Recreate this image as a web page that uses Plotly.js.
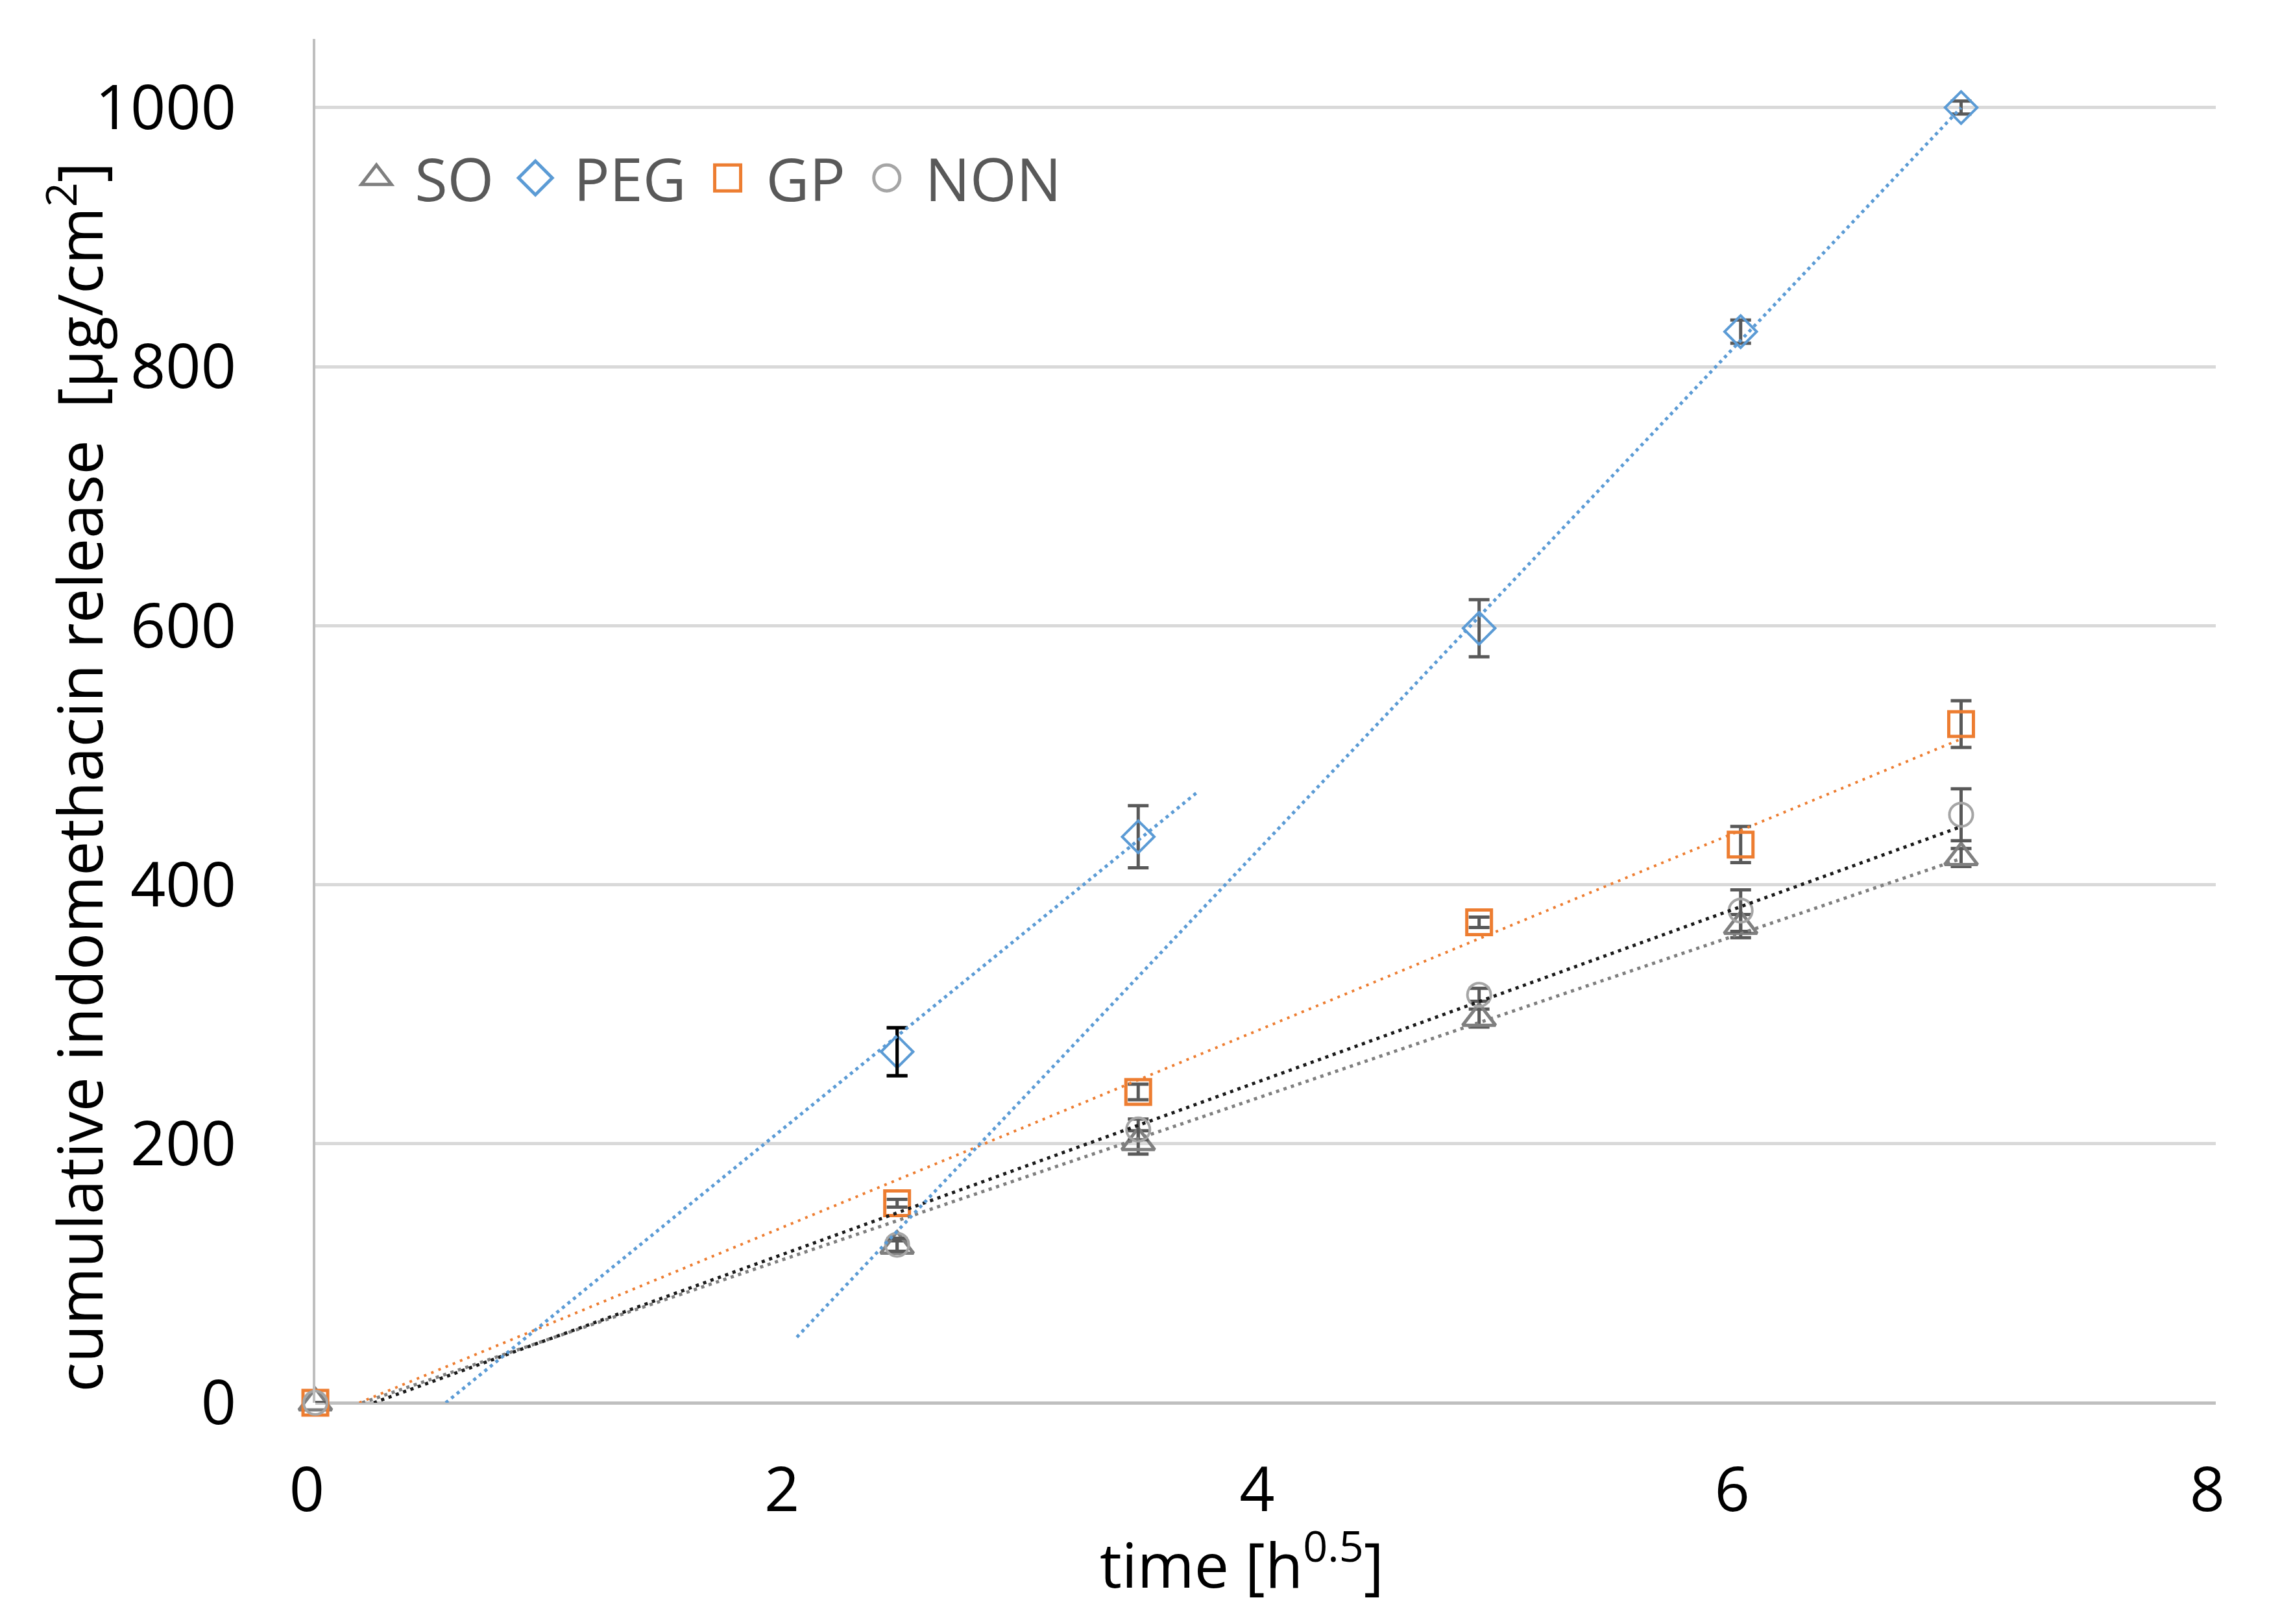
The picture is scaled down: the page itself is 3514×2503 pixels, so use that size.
<!DOCTYPE html>
<html>
<head>
<meta charset="utf-8">
<script src="https://cdn.plot.ly/plotly-3.0.1.min.js"></script>
<style>html,body{margin:0;padding:0;background:#ffffff;}</style>
</head>
<body>
<div id="chart" style="width:3514px;height:2503px;"></div>
<script>
// ---------- data ----------
const seriesNames = ['SO', 'PEG', 'GP', 'NON'];
const xTickVals = [0, 2, 4, 6, 8];
const yTickVals = [0, 200, 400, 600, 800, 1000];
const xTitle = 'time [h<sup>0.5</sup>]';
const yTitle = 'cumulative indomethacin release  [μg/cm<sup>2</sup>]';

// time [h^0.5]
const timeX = [0, 2.449, 3.464, 4.899, 6.000, 6.928];
const pegX  = [2.449, 3.464, 4.899, 6.000, 6.928];

// cumulative release [µg/cm²]
const soY   = [0, 121, 201, 297, 368, 421];
const soErr = [null, 4, 9, 7, 9, 7];
const pegY   = [271, 437, 598, 827, 1000];
const pegErr = [18.5, 24, 22, 9, 5];
const gpY   = [0, 154, 240, 371, 431, 524];
const gpErr = [null, 3, 6, 4, 14, 18];
const nonY   = [0, 122, 211, 315, 380, 454];
const nonErr = [null, 5, 8, 5, 16, 20];

// PEG trendlines (two segments): slope, intercept, x-from, x-to
const pegTrendSlope     = [149.0, 193.7];
const pegTrendIntercept = [-81.8, -342.0];
const pegTrendFrom      = [0.549, 2.027];
const pegTrendTo        = [3.71, 6.928];

// ---------- helpers ----------
function linFit(x, y) {
  const n = x.length;
  const mx = x.reduce((a, b) => a + b, 0) / n;
  const my = y.reduce((a, b) => a + b, 0) / n;
  let sxy = 0, sxx = 0;
  for (let i = 0; i < n; i++) { sxy += (x[i] - mx) * (y[i] - my); sxx += (x[i] - mx) * (x[i] - mx); }
  const b = sxy / sxx;
  return { slope: b, intercept: my - b * mx };
}
function trendTrace(slope, intercept, x0, x1, color, width, dash) {
  const start = Math.max(x0, intercept < 0 ? -intercept / slope : x0);
  return {
    x: [start, x1], y: [intercept + slope * start, intercept + slope * x1],
    type: 'scatter', mode: 'lines', showlegend: false, hoverinfo: 'skip',
    line: { color: color, width: width, dash: dash }
  };
}

const COL = { SO: '#7f7f7f', PEG: '#5b9bd5', GP: '#ed7d31', NON: '#a5a5a5', ERR: '#595959' };
const FONT = 'Open Sans, Liberation Sans, sans-serif';

function errY(arr, color) {
  return { type: 'data', array: arr, visible: true, color: color, thickness: 5, width: 16 };
}

const fitSO  = linFit(timeX, soY);
const fitNON = linFit(timeX, nonY);
const fitGP  = linFit(timeX, gpY);
const lastX = timeX[timeX.length - 1];

const traces = [
  {
    name: seriesNames[0], x: timeX, y: soY, type: 'scatter', mode: 'markers', cliponaxis: false,
    marker: { symbol: 'triangle-up-open', size: 44, color: COL.SO, line: { width: 5, color: COL.SO } },
    error_y: errY(soErr, COL.ERR)
  },
  {
    name: seriesNames[1], x: pegX, y: pegY, type: 'scatter', mode: 'markers', cliponaxis: false,
    marker: { symbol: 'diamond-open', size: 38, color: COL.PEG, line: { width: 4, color: COL.PEG } },
    error_y: errY(pegErr, COL.ERR)
  },
  {
    name: seriesNames[2], x: timeX, y: gpY, type: 'scatter', mode: 'markers', cliponaxis: false,
    marker: { symbol: 'square-open', size: 38, color: COL.GP, line: { width: 5, color: COL.GP } },
    error_y: errY(gpErr, COL.ERR)
  },
  {
    name: seriesNames[3], x: timeX, y: nonY, type: 'scatter', mode: 'markers', cliponaxis: false,
    marker: { symbol: 'circle-open', size: 36, color: COL.NON, line: { width: 4, color: COL.NON } },
    error_y: errY(nonErr, COL.ERR)
  },
  // the first PEG error bar is drawn in black in the reference
  {
    x: [pegX[0]], y: [pegY[0]], type: 'scatter', mode: 'markers', showlegend: false, hoverinfo: 'skip',
    marker: { size: 1, opacity: 0 },
    error_y: errY([pegErr[0]], '#000000')
  },
  trendTrace(fitSO.slope,  fitSO.intercept,  0, lastX, '#7f7f7f', 5, '5px,7px'),
  trendTrace(fitNON.slope, fitNON.intercept, 0, lastX, '#1a1a1a', 5, '5px,7px'),
  trendTrace(fitGP.slope,  fitGP.intercept,  0, lastX, COL.GP, 4, '4px,8px'),
  trendTrace(pegTrendSlope[0], pegTrendIntercept[0], pegTrendFrom[0], pegTrendTo[0], COL.PEG, 5, '5px,6px'),
  trendTrace(pegTrendSlope[1], pegTrendIntercept[1], pegTrendFrom[1], pegTrendTo[1], COL.PEG, 5, '5px,6px')
];

const layout = {
  width: 3514, height: 2503,
  paper_bgcolor: '#ffffff', plot_bgcolor: '#ffffff',
  margin: { l: 486, r: 99, t: 60, b: 341, pad: 0 },
  font: { family: FONT, size: 95, color: '#000000' },
  showlegend: true,
  legend: {
    orientation: 'h', x: 0.012, y: 0.898, xanchor: 'left', yanchor: 'middle',
    font: { family: FONT, size: 92, color: '#595959' },
    bgcolor: 'rgba(0,0,0,0)', borderwidth: 0, itemwidth: 108, traceorder: 'normal'
  },
  xaxis: {
    range: [0, 8], tickmode: 'array', tickvals: xTickVals, ticktext: xTickVals.map(String),
    showgrid: false, zeroline: false, showline: false, ticks: '',
    tickfont: { family: FONT, size: 95, color: '#000000' },
    ticklabelstandoff: 71, ticklabelshift: -13
  },
  yaxis: {
    range: [0, 1053], tickmode: 'array', tickvals: yTickVals, ticktext: yTickVals.map(String),
    showgrid: true, gridcolor: '#d9d9d9', gridwidth: 5,
    zeroline: true, zerolinecolor: '#bfbfbf', zerolinewidth: 5,
    showline: true, linecolor: '#bfbfbf', linewidth: 4, ticks: '',
    tickfont: { family: FONT, size: 95, color: '#000000' },
    ticklabelstandoff: 99
  },
  annotations: [
    {
      text: xTitle, xref: 'paper', yref: 'paper', x: 0.4875, y: -0.116,
      xanchor: 'center', yanchor: 'middle', showarrow: false,
      font: { family: FONT, size: 95, color: '#000000' }
    },
    {
      text: yTitle, xref: 'paper', yref: 'paper', x: -0.1262, y: 0.4586,
      xanchor: 'center', yanchor: 'middle', showarrow: false, textangle: -90,
      font: { family: FONT, size: 95, color: '#000000' }
    }
  ]
};

Plotly.newPlot('chart', traces, layout, { staticPlot: true, displayModeBar: false }).then(function (gd) {
  // enlarge the legend symbols (Plotly caps them at 16px) to match the reference
  gd.querySelectorAll('.legend .legendpoints path.scatterpts').forEach(function (p) {
    const t = p.getAttribute('transform') || '';
    p.setAttribute('transform', t + ' scale(2.5)');
    p.style.strokeWidth = '2px';
  });
});
</script>
</body>
</html>
